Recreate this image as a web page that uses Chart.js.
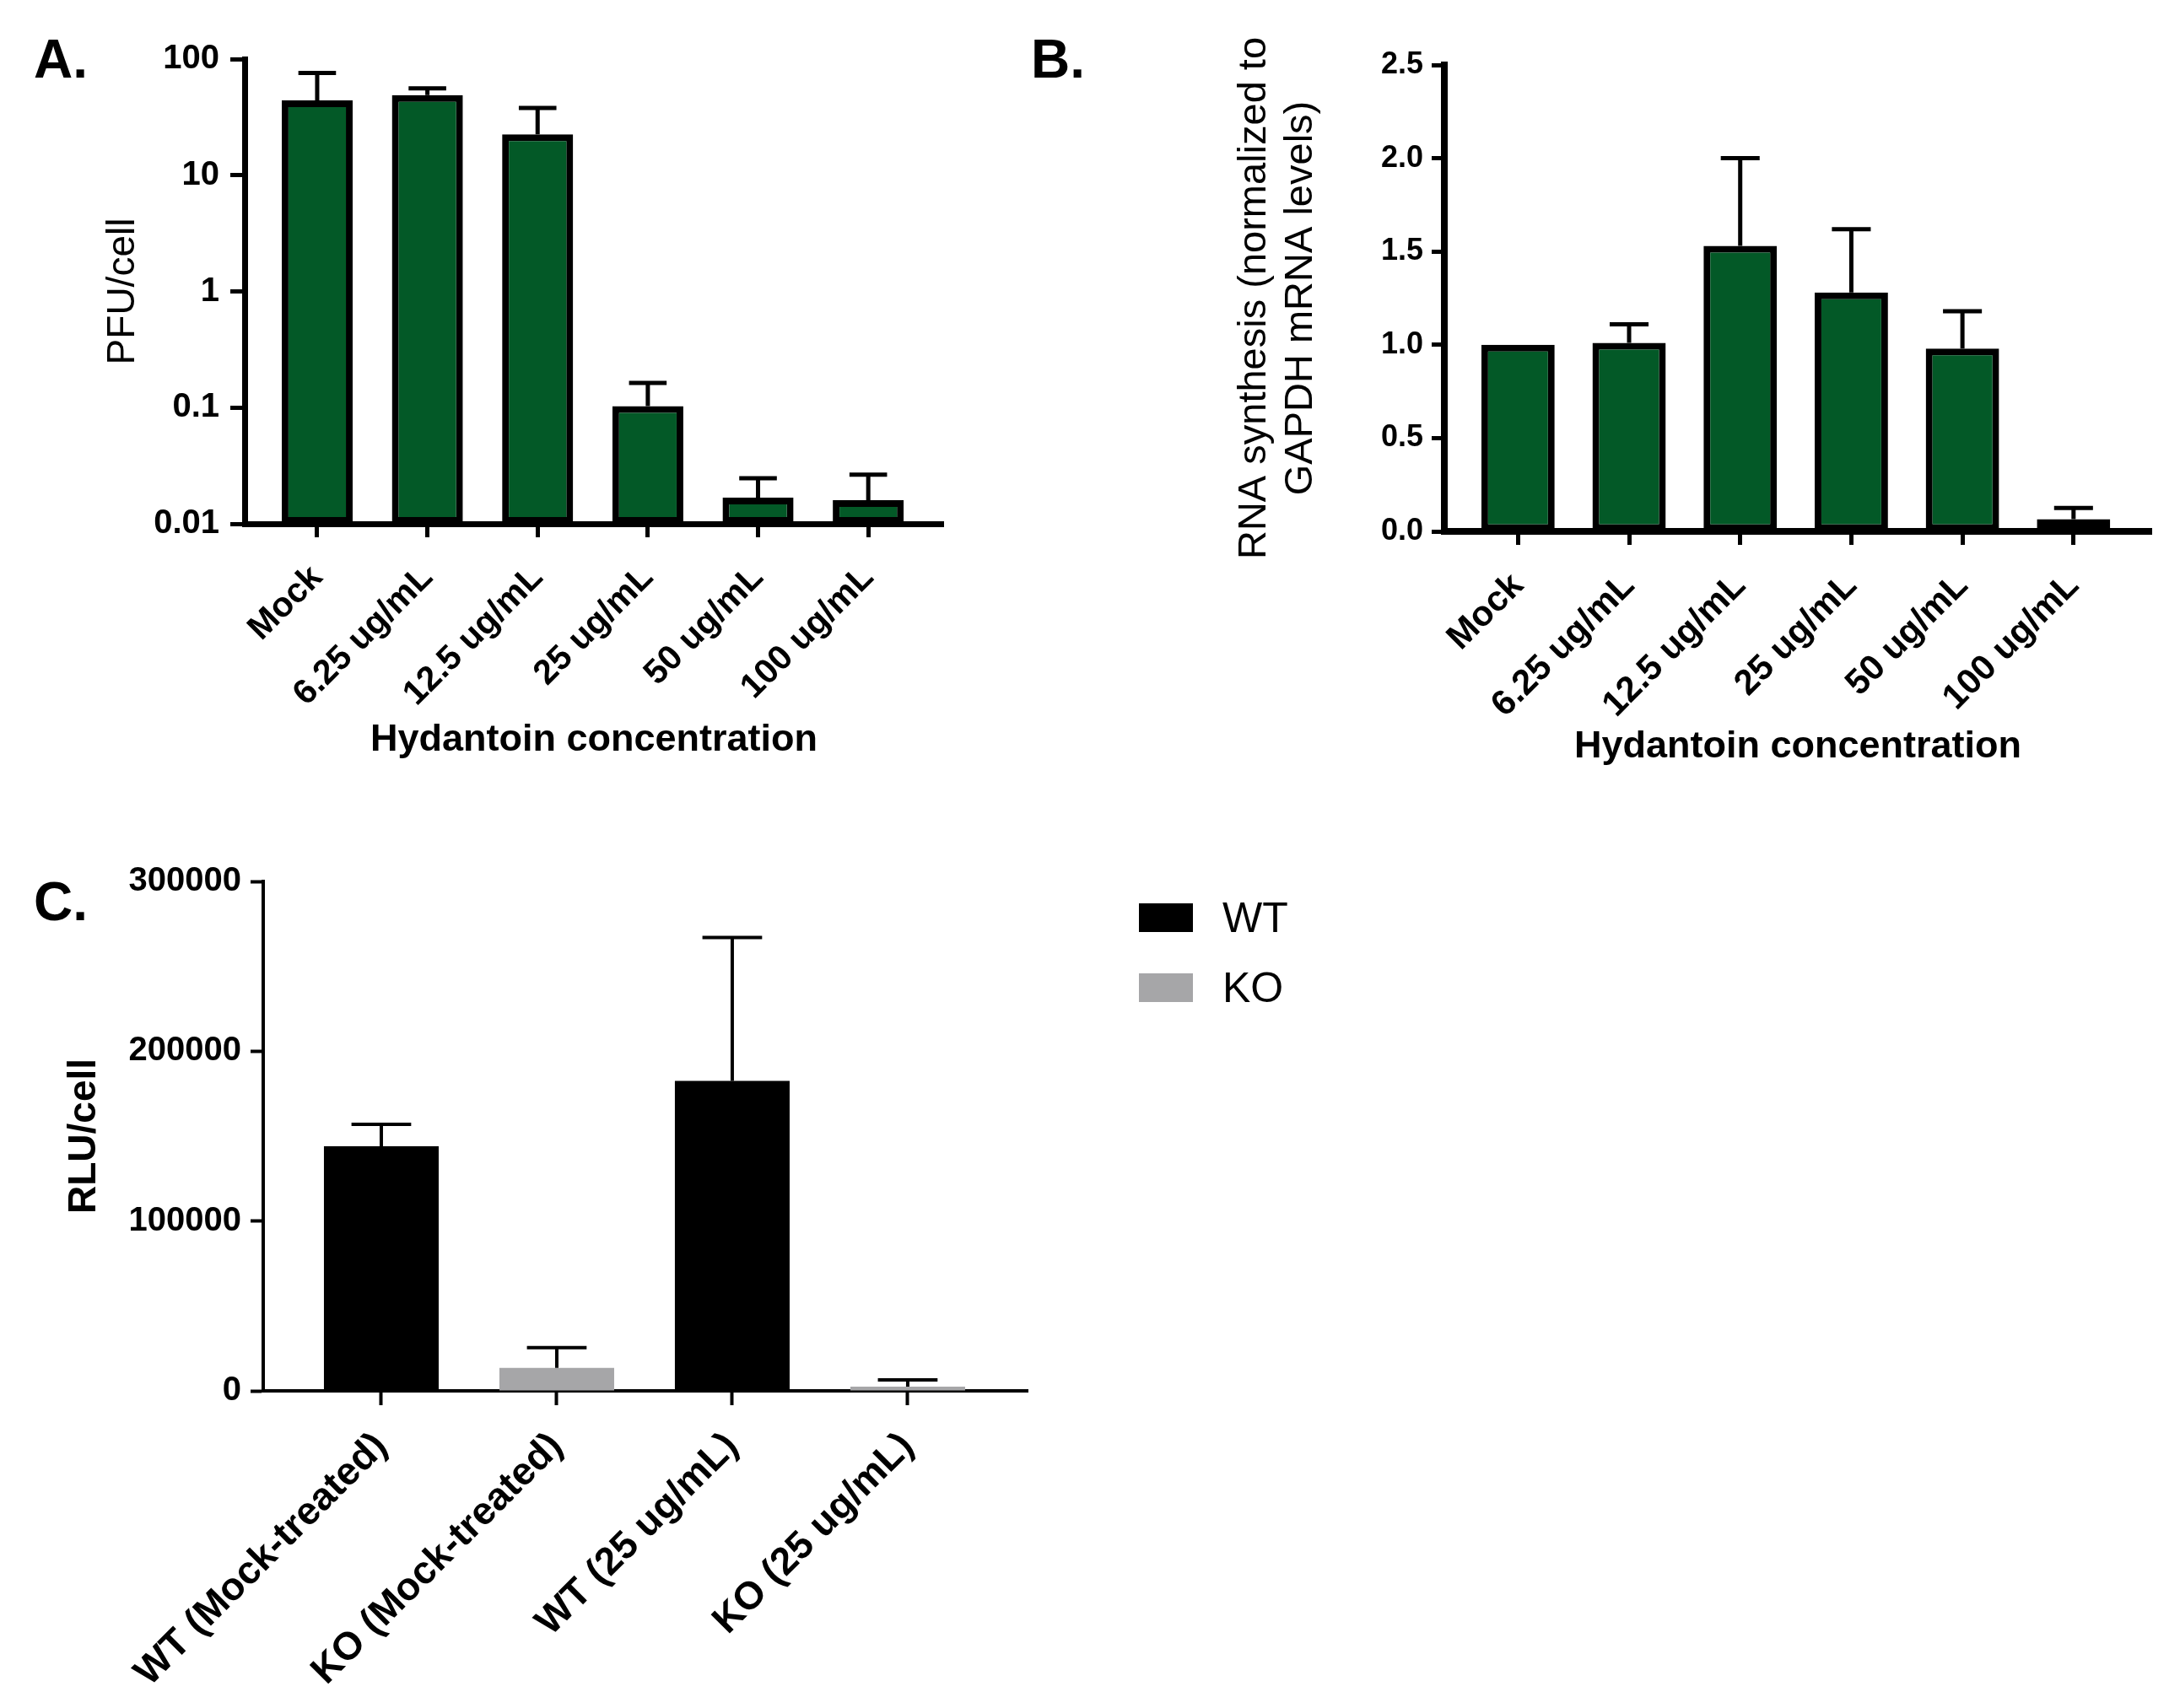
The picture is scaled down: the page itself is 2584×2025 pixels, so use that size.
<!DOCTYPE html>
<html>
<head>
<meta charset="utf-8">
<script src="https://cdn.jsdelivr.net/npm/chart.js@4.4.1/dist/chart.umd.min.js"></script>
<style>
  html, body { margin: 0; padding: 0; background: #fff; }
  #page { position: relative; width: 2584px; height: 2025px; overflow: hidden; background: #fff;
          font-family: 'Liberation Sans', Arial, sans-serif; color: #000; }
  canvas { position: absolute; }
  .panel { position: absolute; font-weight: bold; font-size: 64px; line-height: 1; }
  .lg-box { position: absolute; width: 64px; height: 34px; }
  .lg-text { position: absolute; font-size: 50px; line-height: 1; font-weight: normal; }
</style>
</head>
<body>
<div id="page">
  <div class="panel" style="left:40px; top:38px;">A.</div>
  <div class="panel" style="left:1222px; top:38px;">B.</div>
  <div class="panel" style="left:40px; top:1037px;">C.</div>
  <canvas id="cA" width="1240" height="960" style="left:0px; top:0px;"></canvas>
  <canvas id="cB" width="1344" height="960" style="left:1240px; top:0px;"></canvas>
  <canvas id="cC" width="1300" height="1065" style="left:0px; top:960px;"></canvas>
  <div id="legendC"></div>
</div>
<script>
// ---------------- DATA ----------------
const categoriesAB = ['Mock', '6.25 ug/mL', '12.5 ug/mL', '25 ug/mL', '50 ug/mL', '100 ug/mL'];

const pfuMean = [44, 49, 22.5, 0.103, 0.0168, 0.016];
const pfuSem  = [32, 7, 15.5, 0.06, 0.0079, 0.0105];
const pfuTicks = [0.01, 0.1, 1, 10, 100];
const pfuTickLabels = ['0.01', '0.1', '1', '10', '100'];

const rnaMean = [1.0, 1.01, 1.53, 1.28, 0.98, 0.065];
const rnaSem  = [0, 0.10, 0.47, 0.34, 0.20, 0.06];
const rnaTicks = [0, 0.5, 1, 1.5, 2, 2.5];
const rnaTickLabels = ['0.0', '0.5', '1.0', '1.5', '2.0', '2.5'];

const categoriesC = ['WT (Mock-treated)', 'KO (Mock-treated)', 'WT (25 ug/mL)', 'KO (25 ug/mL)'];
const genotypeC = ['WT', 'KO', 'WT', 'KO'];
const rluMean = [144000, 13500, 182500, 2500];
const rluSem  = [13000, 12000, 84500, 4000];
const rluTicks = [0, 100000, 200000, 300000];
const rluTickLabels = ['0', '100000', '200000', '300000'];
const legendC = ['WT', 'KO'];

const axisTitleX = 'Hydantoin concentration';
const titleA = 'PFU/cell';
const titleB = ['RNA synthesis (normalized to', 'GAPDH mRNA levels)'];
const titleC = 'RLU/cell';

// ---------------- STYLE ----------------
const FONT = "'Liberation Sans', Arial, sans-serif";
const GREEN = '#035927';
const genotypeColors = { WT: '#000000', KO: '#a6a6a8' };

Chart.defaults.font.family = FONT;
Chart.defaults.color = '#000';

const errorBars = {
  id: 'errorBars',
  afterDatasetsDraw(chart, args, opts) {
    const ctx = chart.ctx;
    const y = chart.scales.y;
    chart.data.datasets.forEach((ds, di) => {
      const meta = chart.getDatasetMeta(di);
      meta.data.forEach((bar, i) => {
        const sem = ds.sem ? ds.sem[i] : 0;
        if (!sem) return;
        const top = bar.y;
        const yErr = y.getPixelForValue(ds.data[i].y + sem);
        const capW = bar.width * opts.capRatio;
        ctx.save();
        ctx.strokeStyle = '#000';
        ctx.lineWidth = opts.lineWidth;
        ctx.lineCap = 'butt';
        ctx.beginPath();
        ctx.moveTo(bar.x, top);
        ctx.lineTo(bar.x, yErr - opts.lineWidth / 2);
        ctx.moveTo(bar.x - capW / 2, yErr);
        ctx.lineTo(bar.x + capW / 2, yErr);
        ctx.stroke();
        ctx.restore();
      });
    });
  }
};

function xAxis(cats, min, max, o) {
  return {
    type: 'linear', min: min, max: max, offset: false,
    afterBuildTicks: ax => { ax.ticks = cats.map((_, i) => ({ value: i })); },
    afterFit: ax => { ax.height = o.height; },
    grid: { display: true, offset: false, drawOnChartArea: false, drawTicks: true,
            tickLength: o.tickLength, tickWidth: o.tickWidth, tickColor: '#000' },
    border: { display: true, color: '#000', width: o.axisWidth },
    ticks: { autoSkip: false, minRotation: 45, maxRotation: 45, padding: o.pad, color: '#000',
             font: { family: FONT, size: o.fontSize, weight: 'bold' },
             callback: (v, i) => cats[i] },
    title: o.title ? { display: true, text: o.title, color: '#000',
                       font: { family: FONT, size: o.titleSize, weight: 'bold', lineHeight: 1.2 },
                       padding: { top: 0, bottom: o.titlePad } } : { display: false }
  };
}

function yAxis(type, min, max, tickVals, tickLabels, o) {
  return {
    type: type, min: min, max: max,
    afterBuildTicks: ax => { ax.ticks = tickVals.map(v => ({ value: v })); },
    afterFit: ax => { ax.width = o.width; },
    grid: { display: true, drawOnChartArea: false, drawTicks: true,
            tickLength: o.tickLength, tickWidth: o.tickWidth, tickColor: '#000' },
    border: { display: true, color: '#000', width: o.axisWidth },
    ticks: { padding: o.pad, color: '#000', font: { family: FONT, size: o.fontSize, weight: 'bold' },
             callback: (v, i) => tickLabels[i] },
    title: { display: true, text: o.title, color: '#000',
             font: { family: FONT, size: o.titleSize, weight: o.titleWeight, lineHeight: o.titleLH },
             padding: { top: o.titlePad, bottom: 0 } }
  };
}

function baseOptions(padding, errOpts, scales) {
  return {
    responsive: false, animation: false, events: [],
    layout: { padding: padding },
    plugins: { legend: { display: false }, tooltip: { enabled: false }, errorBars: errOpts },
    scales: scales
  };
}

// ---------------- PANEL A ----------------
new Chart(document.getElementById('cA'), {
  type: 'bar',
  data: {
    datasets: [{
      data: pfuMean.map((v, i) => ({ x: i, y: v })),
      sem: pfuSem,
      backgroundColor: GREEN, borderColor: '#000', borderWidth: 8, borderSkipped: false,
      barPercentage: 0.644, categoryPercentage: 1
    }]
  },
  options: baseOptions({ left: 0, top: 70, right: 122, bottom: 0 }, { lineWidth: 5, capRatio: 0.53 }, {
    x: xAxis(categoriesAB, -0.658, 5.68, { height: 339, tickLength: 16, tickWidth: 5, axisWidth: 7,
            pad: 24, fontSize: 41, title: axisTitleX, titleSize: 45, titlePad: 55 }),
    y: yAxis('logarithmic', 0.01, 100, pfuTicks, pfuTickLabels, { width: 290, tickLength: 17, tickWidth: 5,
            axisWidth: 7, pad: 13, fontSize: 40, title: titleA, titleSize: 46, titleWeight: 'normal',
            titleLH: 1.2, titlePad: 119 })
  }),
  plugins: [errorBars]
});

// ---------------- PANEL B ----------------
new Chart(document.getElementById('cB'), {
  type: 'bar',
  data: {
    datasets: [{
      data: rnaMean.map((v, i) => ({ x: i, y: v })),
      sem: rnaSem,
      backgroundColor: GREEN, borderColor: '#000', borderWidth: 8, borderSkipped: false,
      barPercentage: 0.66, categoryPercentage: 1
    }]
  },
  options: baseOptions({ left: 0, top: 77, right: 34, bottom: 0 }, { lineWidth: 5, capRatio: 0.53 }, {
    x: xAxis(categoriesAB, -0.663, 5.70, { height: 330, tickLength: 16, tickWidth: 5, axisWidth: 8,
            pad: 24, fontSize: 42, title: axisTitleX, titleSize: 45, titlePad: 47 }),
    y: yAxis('linear', 0, 2.5, rnaTicks, rnaTickLabels, { width: 472, tickLength: 15, tickWidth: 5,
            axisWidth: 8, pad: 10, fontSize: 36, title: titleB, titleSize: 47, titleWeight: 'normal',
            titleLH: 1.17, titlePad: 220 })
  }),
  plugins: [errorBars]
});

// ---------------- PANEL C ----------------
const chartC = new Chart(document.getElementById('cC'), {
  type: 'bar',
  data: {
    datasets: [{
      data: rluMean.map((v, i) => ({ x: i, y: v })),
      sem: rluSem,
      backgroundColor: genotypeC.map(g => genotypeColors[g]), borderWidth: 0,
      barPercentage: 0.654, categoryPercentage: 1
    }]
  },
  options: baseOptions({ left: 0, top: 85, right: 82, bottom: 0 }, { lineWidth: 4, capRatio: 0.52 }, {
    x: xAxis(categoriesC, -0.673, 3.683, { height: 376, tickLength: 17, tickWidth: 4, axisWidth: 4,
            pad: 22, fontSize: 46 }),
    y: yAxis('linear', 0, 300000, rluTicks, rluTickLabels, { width: 312, tickLength: 15, tickWidth: 4,
            axisWidth: 4, pad: 11, fontSize: 40, title: titleC, titleSize: 46, titleWeight: 'bold',
            titleLH: 1.2, titlePad: 73 })
  }),
  plugins: [errorBars]
});

// ---------------- LEGEND C (HTML, built from data) ----------------
(function () {
  const host = document.getElementById('legendC');
  const boxLeft = 1350, boxTop0 = 1071, step = 83, textLeft = 1449;
  legendC.forEach((name, i) => {
    const box = document.createElement('div');
    box.className = 'lg-box';
    box.style.left = boxLeft + 'px';
    box.style.top = (boxTop0 + i * step) + 'px';
    box.style.background = genotypeColors[name];
    host.appendChild(box);
    const t = document.createElement('div');
    t.className = 'lg-text';
    t.style.left = textLeft + 'px';
    t.style.top = (boxTop0 - 8 + i * step) + 'px';
    t.textContent = name;
    host.appendChild(t);
  });
})();
</script>
</body>
</html>
